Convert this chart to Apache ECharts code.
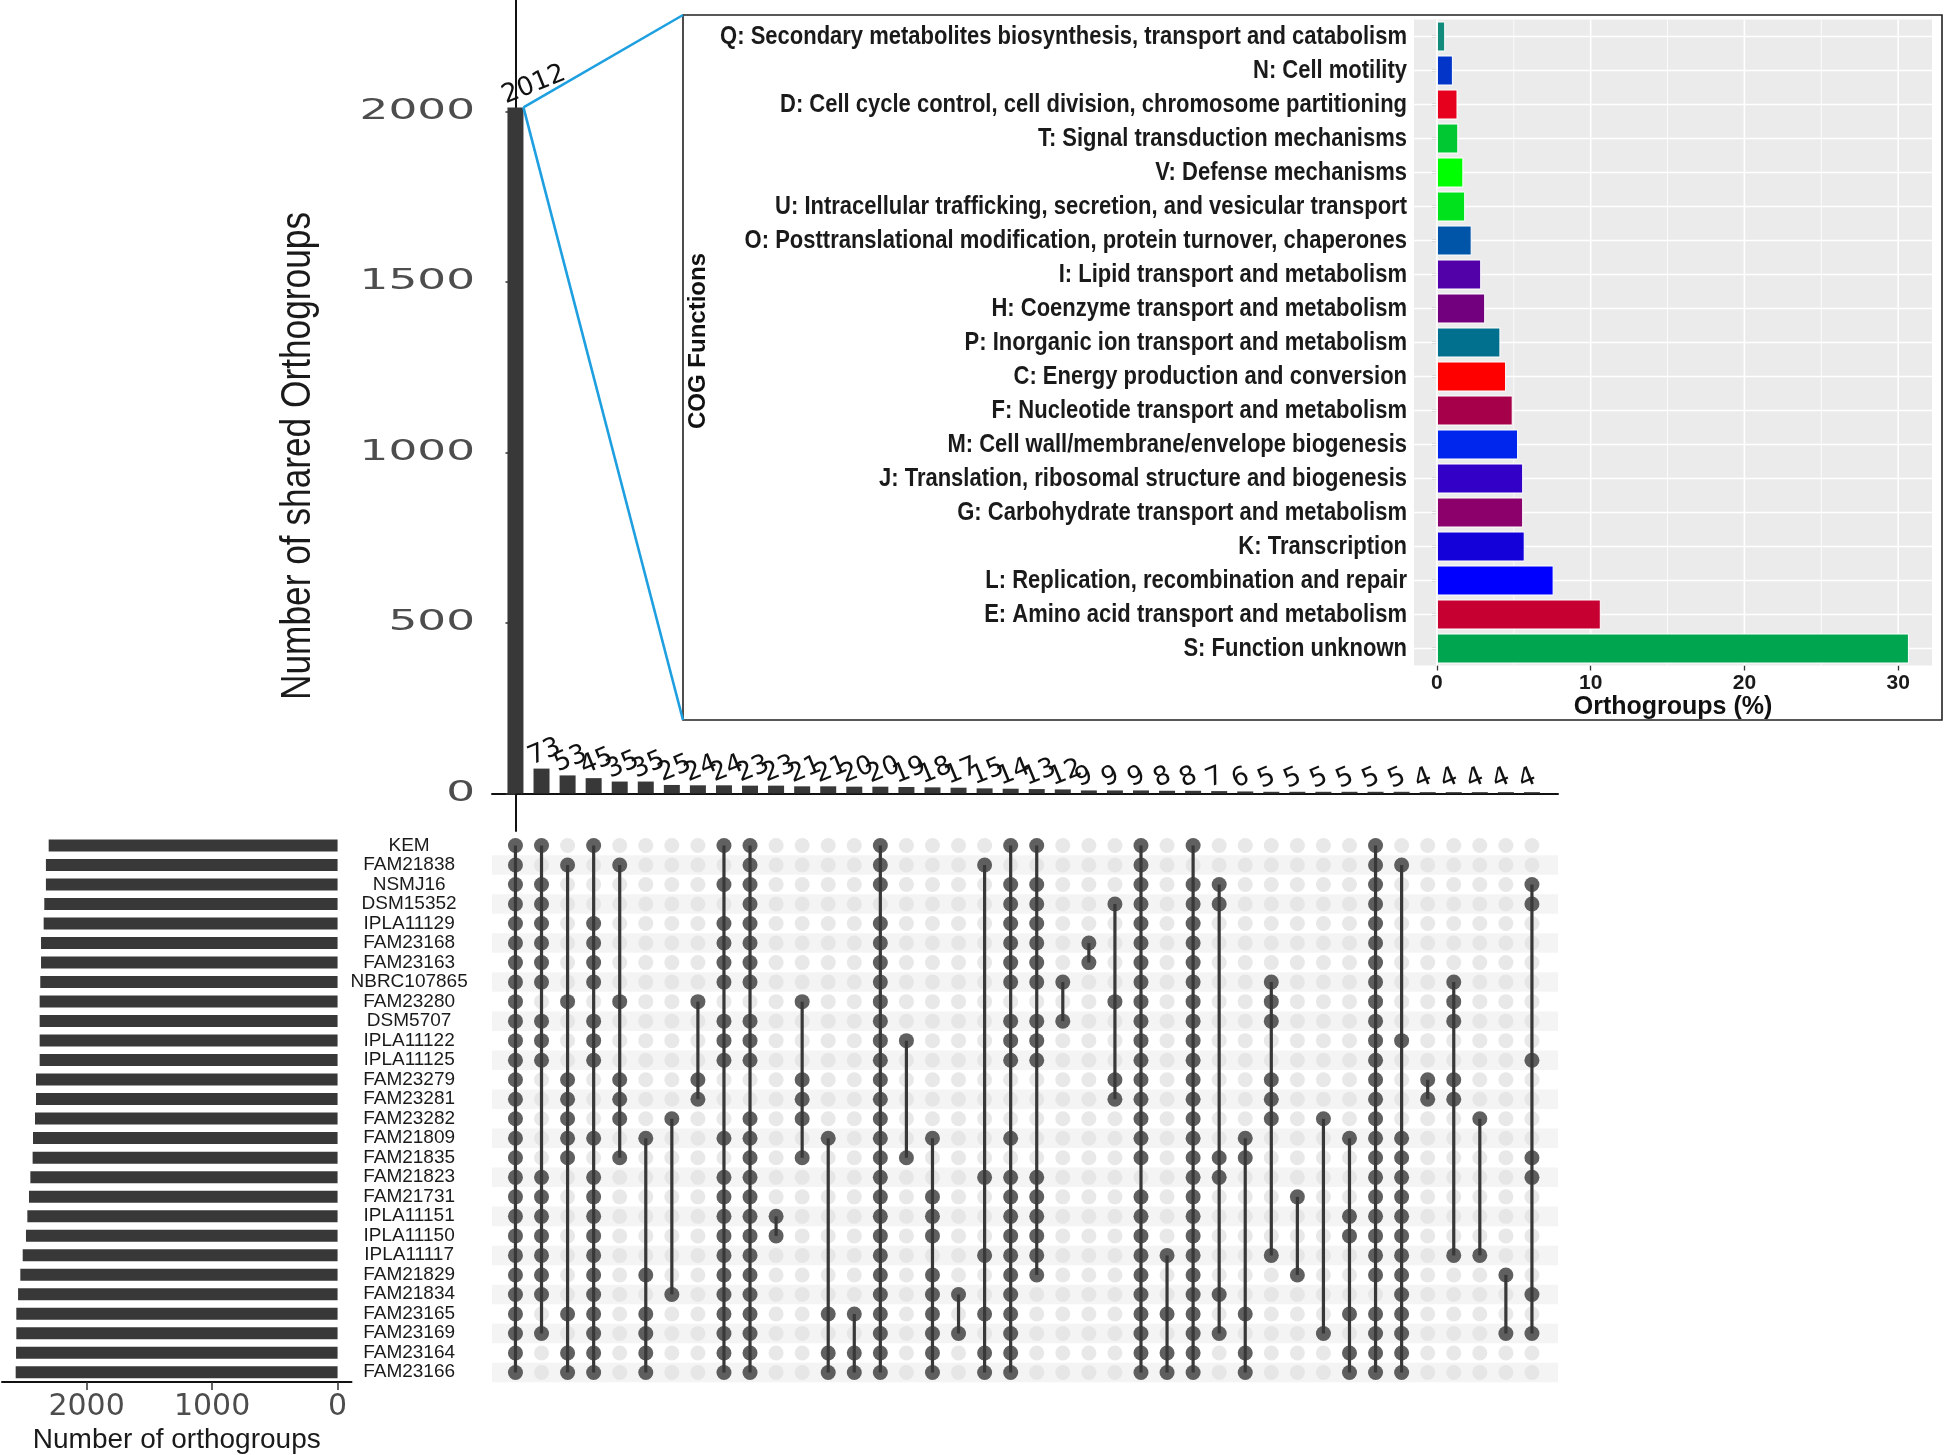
<!DOCTYPE html>
<html><head><meta charset="utf-8">
<script src="https://cdn.jsdelivr.net/npm/echarts@6/dist/echarts.min.js"></script>
<style>html,body{margin:0;padding:0;background:#fff}#c{width:1944px;height:1455px}</style>
</head><body><div id="c"></div>
<script>
// ---------------- DATA ----------------
const intersectionSizes = [2012,73,53,45,35,35,25,24,24,23,23,21,21,20,20,19,18,17,15,14,13,12,9,9,9,8,8,7,6,5,5,5,5,5,5,4,4,4,4,4];
const setNames = ['KEM','FAM21838','NSMJ16','DSM15352','IPLA11129','FAM23168','FAM23163','NBRC107865','FAM23280','DSM5707','IPLA11122','IPLA11125','FAM23279','FAM23281','FAM23282','FAM21809','FAM21835','FAM21823','FAM21731','IPLA11151','IPLA11150','IPLA11117','FAM21829','FAM21834','FAM23165','FAM23169','FAM23164','FAM23166'];
const setSizes = [2302,2324,2324,2337,2342,2363,2363,2369,2374,2374,2374,2374,2403,2403,2411,2427,2430,2448,2459,2472,2483,2509,2528,2546,2560,2560,2562,2565];
// member rows (indices into setNames) for each intersection column
const memberships = [
  [0,1,2,3,4,5,6,7,8,9,10,11,12,13,14,15,16,17,18,19,20,21,22,23,24,25,26,27],
  [0,2,3,4,5,6,7,9,10,11,17,18,19,20,21,22,23,25],
  [1,8,12,13,14,15,16,24,26,27],
  [0,4,5,6,7,9,10,11,15,17,18,19,20,21,22,23,24,25,26,27],
  [1,8,12,13,14,16],
  [15,22,24,25,26,27],
  [14,23],
  [8,12,13],
  [0,2,4,5,6,7,9,10,11,15,17,18,19,20,21,22,23,24,25,26,27],
  [0,1,2,3,4,5,6,7,9,10,11,14,15,16,17,18,19,20,21,22,23,24,25,26,27],
  [19,20],
  [8,12,13,14,16],
  [15,24,26,27],
  [24,26,27],
  [0,1,2,4,5,6,7,8,9,10,11,12,13,14,15,16,17,18,19,20,21,22,23,24,25,26,27],
  [10,16],
  [15,18,19,20,22,23,24,25,26,27],
  [23,25],
  [1,17,21,24,26,27],
  [0,2,3,4,5,6,7,9,10,11,15,17,18,19,20,21,22,23,24,25,26,27],
  [0,2,3,4,5,6,7,9,10,11,17,18,19,20,21,22],
  [7,9],
  [5,6],
  [3,8,12,13],
  [0,1,2,3,4,5,6,7,8,9,10,11,12,13,14,15,16,18,19,20,21,22,23,24,25,26,27],
  [21,24,26,27],
  [0,2,3,4,5,6,7,8,9,10,11,12,13,14,15,16,17,18,19,20,21,22,23,24,25,26,27],
  [2,3,16,17,23,25],
  [15,16,24,26,27],
  [7,8,9,12,13,14,21],
  [18,22],
  [14,25],
  [15,19,20,24,26,27],
  [0,1,2,3,4,5,6,7,8,9,10,11,12,13,14,15,16,17,18,19,20,21,22,24,25,26,27],
  [1,10,15,16,17,18,19,20,21,22,23,24,25,26,27],
  [12,13],
  [7,8,9,12,13,21],
  [14,21],
  [22,25],
  [2,3,11,16,17,23,25]
];
const cogCategories = [
  'Q: Secondary metabolites biosynthesis, transport and catabolism',
  'N: Cell motility',
  'D: Cell cycle control, cell division, chromosome partitioning',
  'T: Signal transduction mechanisms',
  'V: Defense mechanisms',
  'U: Intracellular trafficking, secretion, and vesicular transport',
  'O: Posttranslational modification, protein turnover, chaperones',
  'I: Lipid transport and metabolism',
  'H: Coenzyme transport and metabolism',
  'P: Inorganic ion transport and metabolism',
  'C: Energy production and conversion',
  'F: Nucleotide transport and metabolism',
  'M: Cell wall/membrane/envelope biogenesis',
  'J: Translation, ribosomal structure and biogenesis',
  'G: Carbohydrate transport and metabolism',
  'K: Transcription',
  'L: Replication, recombination and repair',
  'E: Amino acid transport and metabolism',
  'S: Function unknown'
];
const cogValues = [0.54,1.04,1.34,1.39,1.72,1.84,2.26,2.88,3.14,4.13,4.5,4.93,5.28,5.61,5.61,5.71,7.59,10.66,30.7];
const cogColors = ['#138B7B','#0335C8','#E6001E','#00C832','#00FF00','#00E31C','#0055A8','#5200A8','#72007E','#00708E','#FF0000','#A6004A','#0026EE','#3300C8','#8C006B','#1400D9','#0000FF','#C70032','#00A550'];
const topTicks = [0,500,1000,1500,2000];
const setTicks = [0,1000,2000];
const cogTicks = [0,10,20,30];
const cogMinorTicks = [5,15,25];

// ---------------- LAYOUT ----------------
const X_MIN = -0.9, X_MAX = 40.0;
const SANS = "'Liberation Sans',Arial,sans-serif";
const DARK = '#383838';

const nRows = setNames.length;
const activeDots = [], inactiveDots = [], colLines = [];
memberships.forEach((rows, c) => {
  const s = new Set(rows);
  for (let r = 0; r < nRows; r++) (s.has(r) ? activeDots : inactiveDots).push([c, r]);
  colLines.push([c, Math.min(...rows), Math.max(...rows)]);
});
const stripeRows = [];
for (let r = 1; r < nRows; r += 2) stripeRows.push([X_MIN, r]);

const chart = echarts.init(document.getElementById('c'), null, {width:1944, height:1455});

const option = {
  animation: false,
  backgroundColor: '#fff',
  textStyle: {fontFamily: SANS},
  grid: [
    {left: 492, top: 0, width: 1066, height: 831},
    {left: 492, top: 835.7, width: 1066, height: 546.6},
    {left: 2, top: 835.7, width: 349.5, height: 546.6},
    {left: 1414, top: 19.5, width: 518, height: 646, show: true, backgroundColor: '#EBEBEB', borderWidth: 0}
  ],
  xAxis: [
    {gridIndex: 0, type: 'value', min: X_MIN, max: X_MAX,
     axisLine: {show: true, onZero: true, lineStyle: {color: '#111', width: 2}},
     axisTick: {show: false}, axisLabel: {show: false}, splitLine: {show: false}},
    {gridIndex: 1, type: 'value', min: X_MIN, max: X_MAX, show: false},
    {gridIndex: 2, type: 'value', inverse: true, min: -111, max: 2674,
     axisLine: {show: true, onZero: false, lineStyle: {color: '#111', width: 2}},
     axisTick: {show: true, customValues: setTicks, length: 8, lineStyle: {color: '#333', width: 1.5}},
     axisLabel: {show: true, customValues: setTicks, formatter: v => String(v), fontFamily: 'DejaVu Sans', fontSize: 30, color: '#4D4D4D', margin: 10},
     splitLine: {show: false},
     name: 'Number of orthogroups', nameLocation: 'middle', nameGap: 44,
     nameTextStyle: {fontFamily: SANS, fontSize: 28, color: '#1a1a1a'}},
    {gridIndex: 3, type: 'value', min: -1.49, max: 32.2,
     axisLine: {show: false},
     axisTick: {show: true, customValues: cogTicks, length: 5, lineStyle: {color: '#333', width: 1.3}},
     axisLabel: {show: true, customValues: cogTicks, fontFamily: SANS, fontWeight: 'bold', fontSize: 21, color: '#1a1a1a', margin: 7},
     splitLine: {show: false},
     name: 'Orthogroups (%)', nameLocation: 'middle', nameGap: 28,
     nameTextStyle: {fontFamily: SANS, fontWeight: 'bold', fontSize: 25, color: '#111'}}
  ],
  yAxis: [
    {gridIndex: 0, type: 'value', min: -110, max: 2327,
     axisLine: {show: true, lineStyle: {color: '#111', width: 2}},
     axisTick: {show: true, customValues: topTicks, length: 10, lineStyle: {color: '#333', width: 1.5}},
     axisLabel: {show: false}, splitLine: {show: false}},
    {gridIndex: 1, type: 'value', min: -0.5, max: nRows - 0.5, inverse: true, show: false},
    {gridIndex: 2, type: 'category', data: setNames, inverse: true, position: 'right',
     axisLine: {show: false}, axisTick: {show: false},
     axisLabel: {interval: 0, align: 'center', margin: 57.6, fontFamily: SANS, fontSize: 19, color: '#1a1a1a'}},
    {gridIndex: 3, type: 'category', data: cogCategories, inverse: true,
     axisLine: {show: false},
     axisTick: {show: true, length: 5, alignWithLabel: true, lineStyle: {color: '#333', width: 1.3}},
     axisLabel: {show: false}}
  ],
  series: [
    {type: 'bar', xAxisIndex: 0, yAxisIndex: 0, barWidth: 16,
     data: intersectionSizes.map((v, i) => [i, v]),
     itemStyle: {color: DARK},
     label: {show: true, position: 'top', distance: 1, rotate: 22, align: 'left', verticalAlign: 'bottom',
             offset: [-8, 0], formatter: p => p.value[1], fontFamily: 'DejaVu Sans', fontSize: 26, color: '#111'}},
    {type: 'custom', xAxisIndex: 1, yAxisIndex: 1, data: stripeRows, z: 0, silent: true,
     renderItem: (params, api) => {
       const r = api.value(1);
       const p1 = api.coord([X_MIN, r - 0.5]);
       const p2 = api.coord([X_MAX, r + 0.5]);
       return {type: 'rect', shape: {x: p1[0], y: Math.min(p1[1], p2[1]), width: p2[0] - p1[0], height: Math.abs(p2[1] - p1[1])},
               style: {fill: '#F4F4F4'}};
     }},
    {type: 'scatter', xAxisIndex: 1, yAxisIndex: 1, data: inactiveDots, symbolSize: 15, z: 2, silent: true,
     itemStyle: {color: '#E2E2E2'}},
    {type: 'custom', xAxisIndex: 1, yAxisIndex: 1, data: colLines, z: 3, silent: true,
     encode: {x: 0, y: [1, 2]},
     renderItem: (params, api) => {
       const p1 = api.coord([api.value(0), api.value(1)]);
       const p2 = api.coord([api.value(0), api.value(2)]);
       return {type: 'line', shape: {x1: p1[0], y1: p1[1], x2: p2[0], y2: p2[1]}, style: {stroke: DARK, lineWidth: 3.2}};
     }},
    {type: 'scatter', xAxisIndex: 1, yAxisIndex: 1, data: activeDots, symbolSize: 15, z: 4, silent: true,
     itemStyle: {color: DARK}},
    {type: 'bar', xAxisIndex: 2, yAxisIndex: 2, data: setSizes, barWidth: 12, itemStyle: {color: DARK}},
    {type: 'custom', xAxisIndex: 3, yAxisIndex: 3, z: 1, silent: true,
     data: cogTicks.map(v => [v, 1.6]).concat(cogMinorTicks.map(v => [v, 0.8])),
     renderItem: (params, api) => {
       const cs = params.coordSys;
       const x = api.coord([api.value(0), 0])[0];
       return {type: 'line', shape: {x1: x, y1: cs.y, x2: x, y2: cs.y + cs.height}, style: {stroke: '#fff', lineWidth: api.value(1)}};
     }},
    {type: 'custom', xAxisIndex: 3, yAxisIndex: 3, z: 1, silent: true,
     data: cogCategories.map((c, i) => [0, i]),
     renderItem: (params, api) => {
       const cs = params.coordSys;
       const y = api.coord([0, api.value(1)])[1];
       return {type: 'line', shape: {x1: cs.x, y1: y, x2: cs.x + cs.width, y2: y}, style: {stroke: '#fff', lineWidth: 1.6}};
     }},
    {type: 'bar', xAxisIndex: 3, yAxisIndex: 3, z: 2, barWidth: 30,
     data: cogValues.map((v, i) => ({value: v, itemStyle: {color: cogColors[i]}})),
     itemStyle: {borderColor: '#fff', borderWidth: 1}}
  ]
};
chart.setOption(option);

// ---------------- ANNOTATIONS ----------------
const graphics = [];
const BOX = {x: 683, y: 15, w: 1259, h: 705};
graphics.push({type: 'rect', z: 10, shape: {x: BOX.x, y: BOX.y, width: BOX.w, height: BOX.h},
               style: {fill: 'none', stroke: '#222', lineWidth: 1.6}});
const topPt = chart.convertToPixel({xAxisIndex: 0, yAxisIndex: 0}, [0, intersectionSizes[0]]);
const bx = topPt[0] + 8, by = topPt[1];
graphics.push({type: 'line', z: 10, shape: {x1: bx, y1: by, x2: BOX.x, y2: BOX.y}, style: {stroke: '#1E9FE0', lineWidth: 2.6}});
graphics.push({type: 'line', z: 10, shape: {x1: bx, y1: by, x2: BOX.x, y2: BOX.y + BOX.h}, style: {stroke: '#1E9FE0', lineWidth: 2.6}});
// top y-axis tick labels (wide face)
topTicks.forEach(v => {
  const py = chart.convertToPixel({yAxisIndex: 0}, v);
  graphics.push({type: 'text', z: 10, x: 475, y: py, scaleX: 1.62,
    style: {text: String(v), fontFamily: 'DejaVu Sans', fontSize: 28, fill: '#4D4D4D', align: 'right', verticalAlign: 'middle'}});
});
// COG category labels (narrow bold face)
cogCategories.forEach((name, i) => {
  const py = chart.convertToPixel({yAxisIndex: 3}, i);
  graphics.push({type: 'text', z: 10, x: 1407, y: py, scaleX: 0.83,
    style: {text: name, fontFamily: SANS, fontWeight: 'bold', fontSize: 26.5, fill: '#1a1a1a', align: 'right', verticalAlign: 'middle'}});
});
graphics.push({type: 'text', z: 10, x: 298, y: 456, rotation: Math.PI / 2, scaleX: 0.82,
  style: {text: 'Number of shared Orthogroups', fontFamily: SANS, fontSize: 43, fill: '#1a1a1a', align: 'center', verticalAlign: 'middle'}});
graphics.push({type: 'text', z: 10, x: 698, y: 341, rotation: Math.PI / 2,
  style: {text: 'COG Functions', fontFamily: SANS, fontWeight: 'bold', fontSize: 24, fill: '#111', align: 'center', verticalAlign: 'middle'}});
chart.setOption({graphic: graphics});
</script>
</body></html>
